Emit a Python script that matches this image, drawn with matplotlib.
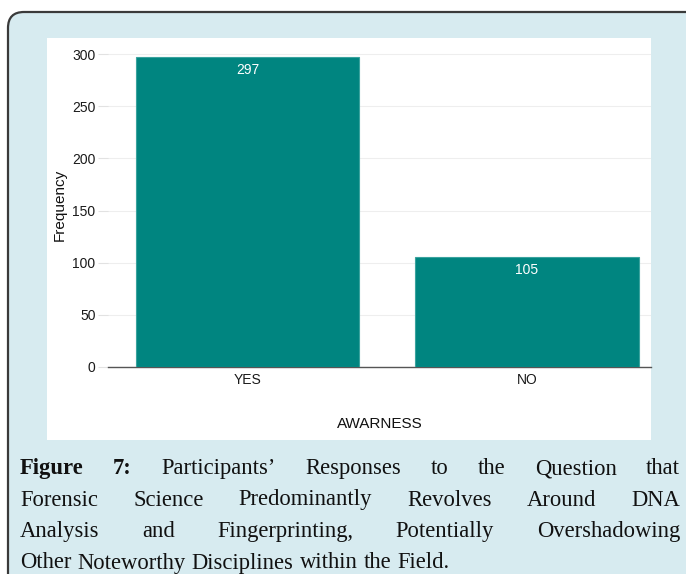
import matplotlib
matplotlib.use("Agg")
import matplotlib.pyplot as plt
from matplotlib.patches import FancyBboxPatch, Rectangle
from matplotlib.transforms import IdentityTransform

categories = ["YES", "NO"]
counts = [297, 105]
y_ticks = [0, 50, 100, 150, 200, 250, 300]

caption_lines = [
    [("Figure", True), ("7:", True), ("Participants’", False), ("Responses", False),
     ("to", False), ("the", False), ("Question", False), ("that", False)],
    [("Forensic", False), ("Science", False), ("Predominantly", False), ("Revolves", False),
     ("Around", False), ("DNA", False)],
    [("Analysis", False), ("and", False), ("Fingerprinting,", False), ("Potentially", False),
     ("Overshadowing", False)],
    [("Other", False), ("Noteworthy", False), ("Disciplines", False), ("within", False),
     ("the", False), ("Field.", False)],
]

W, H = 686, 574
fig = plt.figure(figsize=(W / 100, H / 100), dpi=100)
fig.patch.set_facecolor("white")

# light blue card with dark rounded border, white plot panel on top of it
card = FancyBboxPatch((8, -30), 700, H - 12 + 30, boxstyle="round,pad=0,rounding_size=16",
                      transform=IdentityTransform(), facecolor="#d7ebf0",
                      edgecolor="#3a3a3a", linewidth=1.6, zorder=-10)
fig.patches.append(card)
fig.patches.append(Rectangle((47, H - 440), 651 - 47, 440 - 38, transform=IdentityTransform(),
                             facecolor="white", edgecolor="none", zorder=-9))

ax = fig.add_axes([108 / W, (H - 367) / H, (651 - 108) / W, (367 - 43.6) / H])
ax.set_facecolor("white")
x = list(range(len(categories)))
bars = ax.bar(x, counts, width=0.8, color="#008580", edgecolor="#3aa39e", linewidth=0.8, zorder=3)
for b, v in zip(bars, counts):
    ax.annotate(str(v), (b.get_x() + b.get_width() / 2, v), xytext=(0, -4),
                textcoords="offset points", ha="center", va="top", color="white",
                fontsize=10, family="Liberation Sans", zorder=4)

ax.set_xlim(-0.5, 1.444)
ax.set_ylim(0, 310)
ax.set_xticks(x)
ax.set_xticklabels(categories)
ax.set_yticks(y_ticks)
ax.yaxis.grid(True, color="#eeeeee", linewidth=0.8, zorder=0)
ax.set_axisbelow(True)
for s in ["top", "right", "left"]:
    ax.spines[s].set_visible(False)
ax.spines["bottom"].set_color("#555555")
ax.spines["bottom"].set_linewidth(1.0)
ax.tick_params(axis="y", length=7, color="#e2e2e2", labelsize=10, pad=2, labelcolor="#1a1a1a")
ax.tick_params(axis="x", length=0, labelsize=10, pad=4, labelcolor="#1a1a1a")
for lab in ax.get_xticklabels() + ax.get_yticklabels():
    lab.set_family("Liberation Sans")
ax.set_ylabel("Frequency", fontsize=11, family="Liberation Sans", labelpad=4, color="#111111")
ax.set_xlabel("AWARNESS", fontsize=11, family="Liberation Sans", labelpad=22, color="#111111")

# justified caption below the chart
renderer = fig.canvas.get_renderer()
left, right = 20, 680
baselines = [474, 505.5, 537, 568.5]
space = 6
for i, (line, yb) in enumerate(zip(caption_lines, baselines)):
    texts = []
    for word, bold in line:
        t = fig.text(0, (H - yb) / H, word, fontsize=16.3, family="Liberation Serif",
                     weight="bold" if bold else "normal", color="#111111",
                     va="baseline", ha="left")
        texts.append(t)
    widths = [t.get_window_extent(renderer).width for t in texts]
    if i < len(caption_lines) - 1:
        gap = (right - left - sum(widths)) / (len(texts) - 1)
    else:
        gap = space
    xpos = left
    for t, w in zip(texts, widths):
        t.set_x(xpos / W)
        xpos += w + gap

fig.savefig("out.png", dpi=100)
